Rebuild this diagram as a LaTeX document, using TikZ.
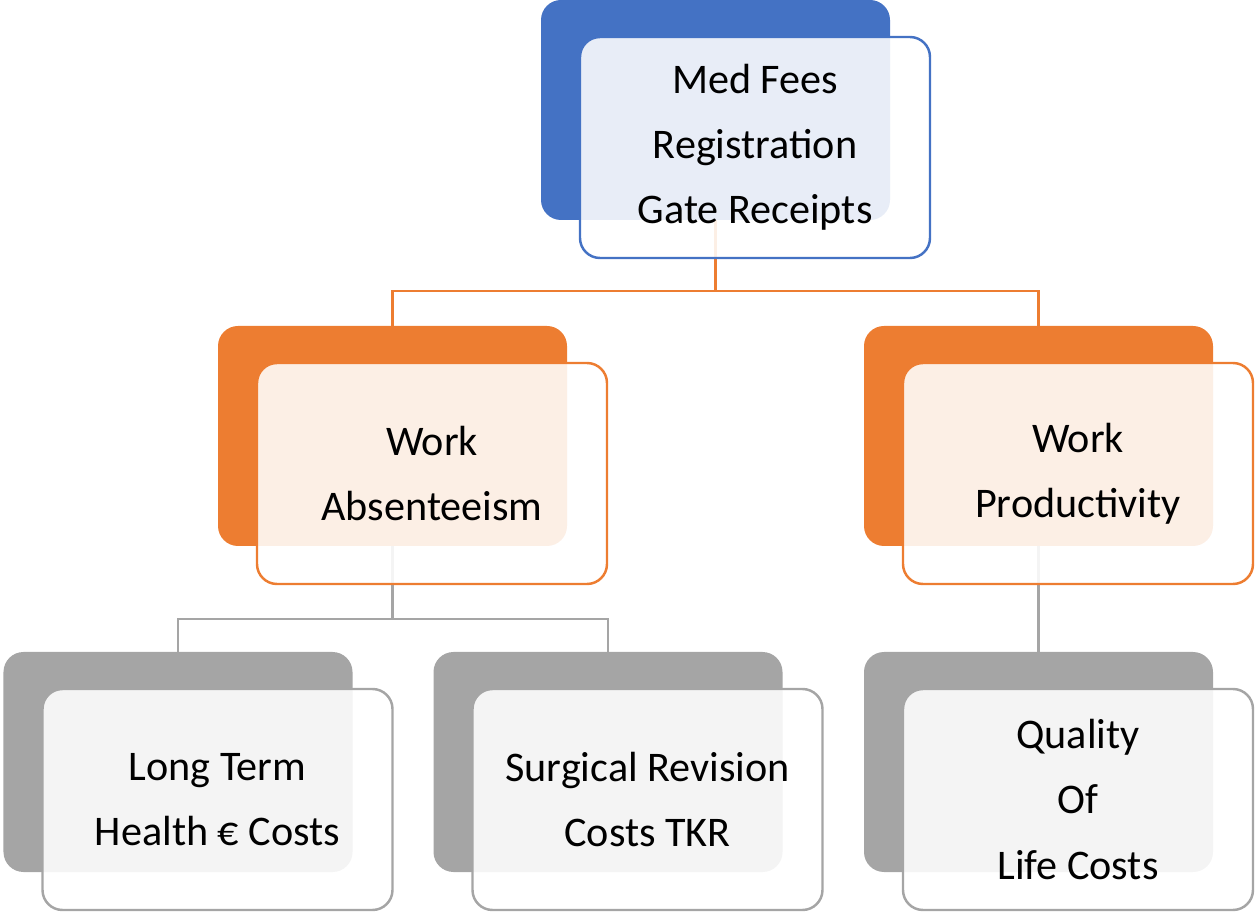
\documentclass[tikz,border=0pt]{standalone}
\usepackage{fontspec}
\setmainfont{Carlito}
\usetikzlibrary{positioning}
\definecolor{bleu}{HTML}{4472C4}
\definecolor{orangeA}{HTML}{ED7D31}
\definecolor{gris}{HTML}{A5A5A5}
\tikzset{
  fond/.style={rounded corners=0.4cm, minimum width=6.98cm, minimum height=4.4cm, fill=#1, inner sep=0pt},
  carte/.style={rounded corners=0.4cm, minimum width=7cm, minimum height=4.42cm, draw=#1, line width=1.4pt,
    fill=white, fill opacity=0.88, text opacity=1, align=center, font=\fontsize{24}{37}\selectfont},
  lien/.style={line width=1.4pt, draw=#1}
}
\begin{document}
\begin{tikzpicture}
    \useasboundingbox (0,0) rectangle (25.1,-18.28);
    % boites du fond
    \node[fond=bleu] (tb) at (14.31,-2.2) {};
    \node[fond=orangeA] (lb) at (7.85,-8.72) {};
    \node[fond=orangeA] (rb) at (20.77,-8.72) {};
    \node[fond=gris] (blb) at (3.56,-15.24) {};
    \node[fond=gris] (bmb) at (12.16,-15.24) {};
    \node[fond=gris] (brb) at (20.77,-15.24) {};
    % liens
    \coordinate (j1) at (14.31,-5.82);
    \coordinate (j2) at (7.85,-12.38);
    \draw[lien=orangeA] (tb.south) -- (j1) -| (lb.north);
    \draw[lien=orangeA] (j1) -| (rb.north);
    \draw[lien=gris] (lb.south) -- (j2) -| (blb.north);
    \draw[lien=gris] (j2) -| (bmb.north);
    \draw[lien=gris] (rb.south) -- (brb.north);
    % boites du devant
    \node[carte=bleu] (tf) at ([shift={(0.79,-0.75)}]tb.center) {Med Fees\\Registration\\Gate Receipts};
    \node[carte=orangeA] (lf) at ([shift={(0.79,-0.75)}]lb.center) {Work\\Absenteeism};
    \node[carte=orangeA] (rf) at ([shift={(0.79,-0.75)}]rb.center) {Work\\Productivity};
    \node[carte=gris] (blf) at ([shift={(0.79,-0.75)}]blb.center) {Long Term\\Health € Costs};
    \node[carte=gris] (bmf) at ([shift={(0.79,-0.75)}]bmb.center) {Surgical Revision\\Costs TKR};
    \node[carte=gris] (brf) at ([shift={(0.79,-0.75)}]brb.center) {Quality\\Of\\Life Costs};
\end{tikzpicture}
\end{document}
